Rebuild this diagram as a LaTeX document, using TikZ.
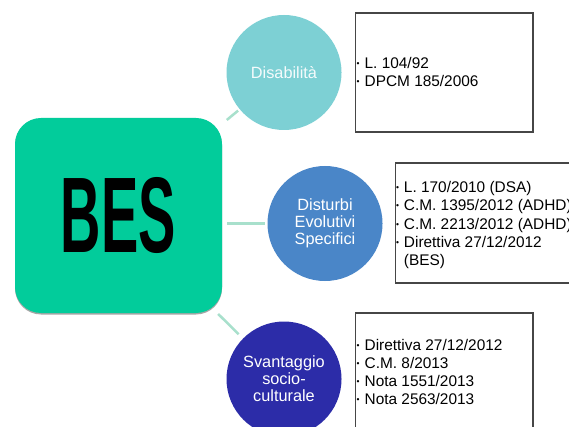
\documentclass[tikz,border=0pt]{standalone}
\usepackage{fontspec}
\usepackage{graphicx}
\setmainfont{Liberation Sans}
\definecolor{besgreen}{RGB}{2,204,155}
\definecolor{cdis}{RGB}{125,208,212}
\definecolor{cdev}{RGB}{74,134,200}
\definecolor{csvan}{RGB}{44,44,168}
\definecolor{conn}{RGB}{168,224,204}
\definecolor{boxline}{RGB}{70,70,70}
\newcommand{\bul}{\raisebox{0.25ex}{\scalebox{0.55}{\textbullet}}}
\begin{document}
\begin{tikzpicture}[x=1pt,y=-1pt,
  bubble/.style={circle,minimum size=115pt,inner sep=0pt,align=center,
    font=\fontsize{16.3}{17}\selectfont},
  listbox/.style={draw=boxline,line width=1.1pt,fill=white},
  listtext/.style={anchor=west,inner sep=0pt,font=\fontsize{15.4}{18.2}\selectfont,text=black},
  link/.style={draw=conn,line width=2.5pt}]
\useasboundingbox (0,0) rectangle (569,427);
\clip (0,0) rectangle (569,427);
\fill[white] (0,0) rectangle (569,427);

% list boxes
\node[listbox,minimum width=177.4pt,minimum height=119pt,inner sep=0pt] (b1) at (444.3,72.5) {};
\node[listbox,minimum width=204.5pt,minimum height=120pt,inner sep=0pt] (b2) at (497.75,223) {};
\node[listbox,minimum width=177.4pt,minimum height=127pt,inner sep=0pt] (b3) at (444.3,376.5) {};

\node[listtext] (t1) at (356.5,74) {\begin{tabular}{@{}l@{\hspace{5pt}}l@{}}
\bul & L. 104/92\\
\bul & DPCM 185/2006
\end{tabular}};
\node[listtext] (t2) at (395.8,225.5) {\begin{tabular}{@{}l@{\hspace{5pt}}l@{}}
\bul & L. 170/2010 (DSA)\\
\bul & C.M. 1395/2012 (ADHD)\\
\bul & C.M. 2213/2012 (ADHD)\\
\bul & Direttiva 27/12/2012\\
 & (BES)
\end{tabular}};
\node[listtext] (t3) at (356.5,374) {\begin{tabular}{@{}l@{\hspace{5pt}}l@{}}
\bul & Direttiva 27/12/2012\\
\bul & C.M. 8/2013\\
\bul & Nota 1551/2013\\
\bul & Nota 2563/2013
\end{tabular}};

% central box
\fill[black!35,rounded corners=26pt] (15,119.5) rectangle (222,314.5);
\node[fill=besgreen,rounded corners=26pt,minimum width=207pt,minimum height=195pt,inner sep=0pt] (bes) at (118.5,215.5)
  {\raisebox{-4pt}{\resizebox{115pt}{75pt}{\bfseries BES}}};

% bubbles
\node[bubble,fill=cdis,text=white!92!cdis] (dis) at (284,72.5) {Disabilità};
\node[bubble,fill=cdev,text=white] (dev) at (325,223.5) {Disturbi\\Evolutivi\\Specifici};
\node[bubble,fill=csvan,text=white] (svan) at (284,379) {Svantaggio\\socio-\\culturale};

% connectors
\draw[link,shorten <=6pt,shorten >=2pt] ([yshift=-6pt]bes.north east) -- (dis);
\draw[link,shorten <=5pt,shorten >=2pt] (bes.east |- dev.west) -- (dev.west);
\draw[link,shorten <=1pt,shorten >=6pt] (bes) -- (svan);
\end{tikzpicture}
\end{document}
